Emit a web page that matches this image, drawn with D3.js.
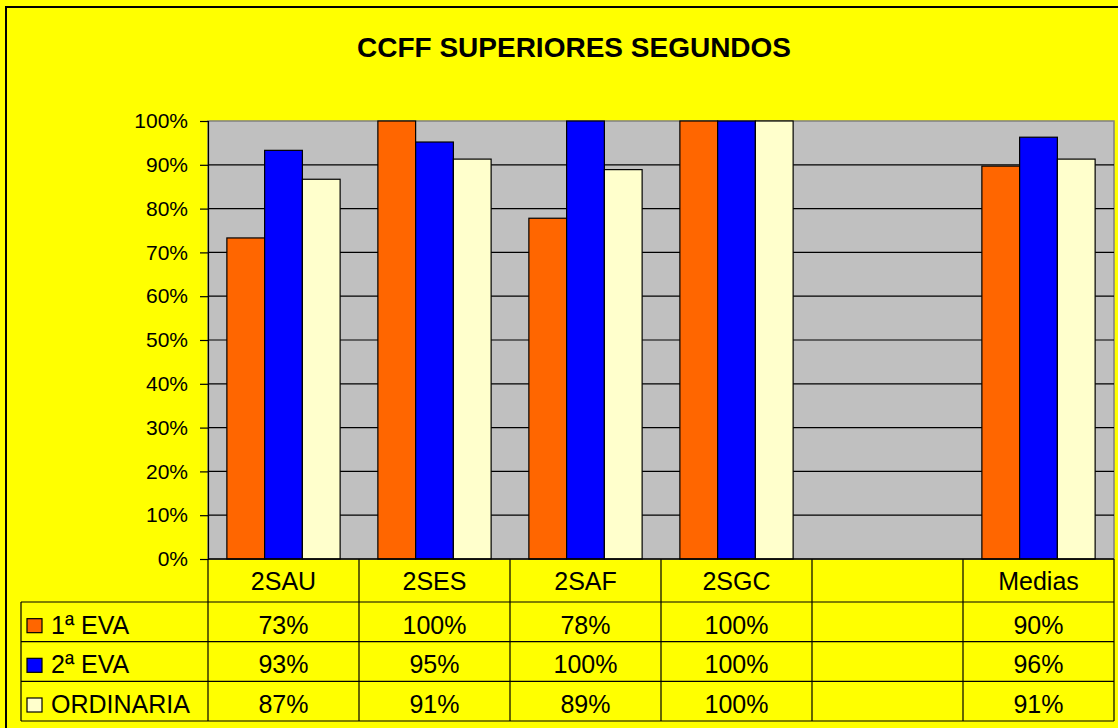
<!DOCTYPE html>
<html>
<head>
<meta charset="utf-8">
<script src="https://cdn.jsdelivr.net/npm/d3@7"></script>
<style>
    body { margin: 0; background: #ffff00; }
    svg { display: block; font-family: "Liberation Sans", Arial, sans-serif; }
</style>
</head>
<body>
<svg id="chart" width="1118" height="728"></svg>
<script>
// chart data
var title = "CCFF SUPERIORES SEGUNDOS";
var categories = ["2SAU", "2SES", "2SAF", "2SGC", "", "Medias"];
var seriesNames = ["1ª EVA", "2ª EVA", "ORDINARIA"];
var eva1 = [0.733, 1.0, 0.778, 1.0, null, 0.897];
var eva2 = [0.933, 0.952, 1.0, 1.0, null, 0.963];
var ordinaria = [0.867, 0.913, 0.889, 1.0, null, 0.913];
var yTicks = [0, 0.1, 0.2, 0.3, 0.4, 0.5, 0.6, 0.7, 0.8, 0.9, 1.0];
var colors = ["#ff6600", "#0000ff", "#ffffcc"];

var seriesValues = [eva1, eva2, ordinaria];
var pct = d3.format(".0%");

var svg = d3.select("#chart"),
    width = 1118,
    height = 728;

var plot = { left: 208, right: 1114, top: 121, bottom: 559 };

/*=====================================================================================================
                                         Scales
======================================================================================================*/
var x = d3.scaleBand()
    .domain(categories)
    .range([plot.left, plot.right]);

var xSub = d3.scaleBand()
    .domain(seriesNames)
    .range([0, x.bandwidth()])
    .paddingOuter(0.5);

var y = d3.scaleLinear()
    .domain([0, 1])
    .range([plot.bottom, plot.top]);

var rowY = d3.scaleBand()
    .domain(seriesNames)
    .range([602, 721]);

// background + outer frame
svg.append("rect")
    .attr("width", width).attr("height", height)
    .attr("fill", "#ffff00");
svg.append("rect")
    .attr("x", 6).attr("y", 7)
    .attr("width", width + 20).attr("height", height + 20)
    .attr("fill", "none")
    .attr("stroke", "#000")
    .attr("stroke-width", 2);

// title
svg.append("text")
    .attr("x", 574).attr("y", 57)
    .attr("text-anchor", "middle")
    .attr("font-size", 28)
    .attr("font-weight", "bold")
    .text(title);

// plot area
svg.append("rect")
    .attr("x", plot.left).attr("y", plot.top)
    .attr("width", plot.right - plot.left)
    .attr("height", plot.bottom - plot.top)
    .attr("fill", "#c0c0c0")
    .attr("stroke", "#808080")
    .attr("stroke-width", 1.5);

// gridlines
svg.append("g")
    .selectAll("line")
    .data(yTicks.filter(function (d) { return d > 0 && d < 1; }))
    .join("line")
    .attr("x1", plot.left).attr("x2", plot.right)
    .attr("y1", function (d) { return y(d); })
    .attr("y2", function (d) { return y(d); })
    .attr("stroke", "#000")
    .attr("stroke-width", 1.2);

// bars
var groups = svg.append("g")
    .selectAll("g")
    .data(categories.map(function (c, i) { return { cat: c, i: i }; }))
    .join("g")
    .attr("transform", function (d) { return "translate(" + x(d.cat) + ",0)"; });

groups.selectAll("rect")
    .data(function (d) {
        return seriesNames.map(function (s, k) {
            return { name: s, k: k, value: seriesValues[k][d.i] };
        }).filter(function (b) { return b.value != null; });
    })
    .join("rect")
    .attr("x", function (d) { return xSub(d.name); })
    .attr("y", function (d) { return y(d.value); })
    .attr("width", xSub.bandwidth())
    .attr("height", function (d) { return y(0) - y(d.value); })
    .attr("fill", function (d) { return colors[d.k]; })
    .attr("stroke", "#000")
    .attr("stroke-width", 1.2);

// y axis
var yAxis = svg.append("g")
    .attr("transform", "translate(" + plot.left + ",0)")
    .call(d3.axisLeft(y)
        .tickValues(yTicks)
        .tickFormat(pct)
        .tickSize(8)
        .tickPadding(12));
yAxis.select(".domain").attr("stroke", "#000").attr("stroke-width", 1.2);
yAxis.selectAll(".tick line").attr("stroke", "#000").attr("stroke-width", 1.2);
yAxis.selectAll("text")
    .attr("font-size", 21)
    .attr("font-family", "'Liberation Sans', Arial, sans-serif")
    .attr("fill", "#000");

// zero line
svg.append("line")
    .attr("x1", plot.left).attr("x2", plot.right)
    .attr("y1", y(0)).attr("y2", y(0))
    .attr("stroke", "#000").attr("stroke-width", 1.5);

/*=====================================================================================================
                                         Data table
======================================================================================================*/
var table = svg.append("g")
    .attr("stroke", "#000")
    .attr("stroke-width", 1.2);

var tableLeft = 21,
    tableBottom = rowY.range()[1];

// horizontal lines
var hLines = [rowY.range()[0]].concat(seriesNames.map(function (s) { return rowY(s) + rowY.bandwidth(); }));
table.selectAll("line.h")
    .data(hLines)
    .join("line")
    .attr("class", "h")
    .attr("x1", tableLeft).attr("x2", plot.right)
    .attr("y1", function (d) { return d; })
    .attr("y2", function (d) { return d; });

// vertical lines
var vLines = categories.map(function (c) { return x(c); }).concat([plot.right]);
table.selectAll("line.v")
    .data(vLines)
    .join("line")
    .attr("class", "v")
    .attr("x1", function (d) { return d; })
    .attr("x2", function (d) { return d; })
    .attr("y1", plot.bottom).attr("y2", tableBottom);
table.append("line")
    .attr("x1", tableLeft).attr("x2", tableLeft)
    .attr("y1", rowY.range()[0]).attr("y2", tableBottom);

// category headers
svg.append("g")
    .selectAll("text")
    .data(categories)
    .join("text")
    .attr("x", function (d) { return x(d) + x.bandwidth() / 2; })
    .attr("y", rowY.range()[0] - 12)
    .attr("text-anchor", "middle")
    .attr("font-size", 25)
    .text(function (d) { return d; });

// value rows
seriesNames.forEach(function (s, k) {
    var row = svg.append("g");
    var base = rowY(s) + rowY.bandwidth() - 8;

    row.append("rect")
        .attr("x", 27).attr("y", base - 15)
        .attr("width", 15).attr("height", 14)
        .attr("fill", colors[k])
        .attr("stroke", "#000")
        .attr("stroke-width", 1.2);

    row.append("text")
        .attr("x", 51).attr("y", base)
        .attr("font-size", 25)
        .text(s);

    row.selectAll("text.val")
        .data(seriesValues[k].map(function (v, i) { return { v: v, cat: categories[i] }; }))
        .join("text")
        .attr("class", "val")
        .attr("x", function (d) { return x(d.cat) + x.bandwidth() / 2; })
        .attr("y", base)
        .attr("text-anchor", "middle")
        .attr("font-size", 25)
        .text(function (d) { return d.v == null ? "" : pct(d.v); });
});
</script>
</body>
</html>
